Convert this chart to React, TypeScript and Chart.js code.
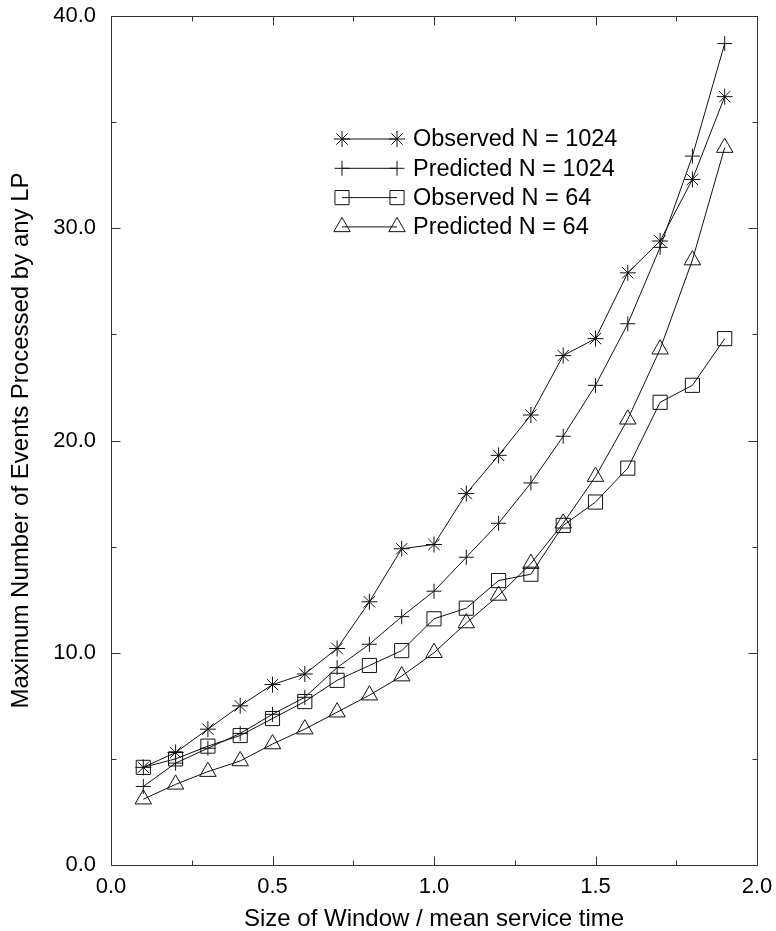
import React, { useEffect, useRef } from "react";
import { Chart, registerables } from "chart.js";

Chart.register(...registerables);

const windowSizes = [0.1, 0.2, 0.3, 0.4, 0.5, 0.6, 0.7, 0.8, 0.9, 1.0, 1.1, 1.2, 1.3, 1.4, 1.5, 1.6, 1.7, 1.8, 1.9];
const observed1024 = [4.6, 5.3, 6.4, 7.5, 8.5, 9.0, 10.2, 12.4, 14.9, 15.1, 17.5, 19.3, 21.2, 24.0, 24.8, 27.9, 29.4, 32.3, 36.2];
const predicted1024 = [3.7, 4.8, 5.5, 6.2, 7.1, 7.9, 9.3, 10.4, 11.7, 12.9, 14.5, 16.1, 18.0, 20.2, 22.6, 25.5, 29.1, 33.4, 38.7];
const observed64 = [4.6, 5.0, 5.6, 6.1, 6.9, 7.7, 8.7, 9.4, 10.1, 11.6, 12.1, 13.4, 13.7, 16.0, 17.1, 18.7, 21.8, 22.6, 24.8];
const predicted64 = [3.1, 3.8, 4.4, 4.9, 5.7, 6.4, 7.2, 8.0, 8.9, 10.0, 11.4, 12.7, 14.2, 16.1, 18.3, 21.0, 24.3, 28.5, 33.8];

const seriesLabels = ["Observed N = 1024", "Predicted N = 1024", "Observed N = 64", "Predicted N = 64"];
const xMajorTicks = [0, 0.5, 1.0, 1.5, 2.0];
const xMinorTicks = [0.25, 0.75, 1.25, 1.75];
const yMajorTicks = [0, 10, 20, 30, 40];
const yMinorTicks = [5, 15, 25, 35];

const INK = "#111111";
const FONT = "'Liberation Sans', Arial, Helvetica, sans-serif";
const styles = ["star", "cross", "rect", "triangle"];
const radii = [8, 7.5, 10, 9.5];

function drawMarker(ctx: CanvasRenderingContext2D, style: string, x: number, y: number, r: number) {
  ctx.beginPath();
  if (style === "rect") {
    const s = Math.SQRT1_2 * r;
    ctx.rect(x - s, y - s, 2 * s, 2 * s);
  } else if (style === "triangle") {
    let rad = 0;
    ctx.moveTo(x + Math.sin(rad) * r, y - Math.cos(rad) * r);
    rad += (2 * Math.PI) / 3;
    ctx.lineTo(x + Math.sin(rad) * r, y - Math.cos(rad) * r);
    rad += (2 * Math.PI) / 3;
    ctx.lineTo(x + Math.sin(rad) * r, y - Math.cos(rad) * r);
    ctx.closePath();
  } else if (style === "cross") {
    ctx.moveTo(x - r, y);
    ctx.lineTo(x + r, y);
    ctx.moveTo(x, y - r);
    ctx.lineTo(x, y + r);
  } else if (style === "star") {
    ctx.moveTo(x - r, y);
    ctx.lineTo(x + r, y);
    ctx.moveTo(x, y - r);
    ctx.lineTo(x, y + r);
    const d = Math.cos(Math.PI / 4) * r;
    ctx.moveTo(x - d, y - d);
    ctx.lineTo(x + d, y + d);
    ctx.moveTo(x + d, y - d);
    ctx.lineTo(x - d, y + d);
  }
  ctx.stroke();
}

const framePlugin = {
  id: "frameTicks",
  afterDraw(chart: any) {
    const { ctx, chartArea } = chart;
    const xs = chart.scales.x;
    const ys = chart.scales.y;
    ctx.save();
    ctx.strokeStyle = "#333333";
    ctx.lineWidth = 1;
    const l = Math.round(chartArea.left) + 0.5;
    const r = Math.round(chartArea.right) + 0.5;
    const t = Math.round(chartArea.top) + 0.5;
    const b = Math.round(chartArea.bottom) + 0.5;
    ctx.strokeRect(l, t, r - l, b - t);
    ctx.beginPath();
    const xt = (vals: number[], len: number) => {
      vals.forEach((v) => {
        const px = Math.round(xs.getPixelForValue(v)) + 0.5;
        ctx.moveTo(px, b);
        ctx.lineTo(px, b - len);
        ctx.moveTo(px, t);
        ctx.lineTo(px, t + len);
      });
    };
    const yt = (vals: number[], len: number) => {
      vals.forEach((v) => {
        const py = Math.round(ys.getPixelForValue(v)) + 0.5;
        ctx.moveTo(l, py);
        ctx.lineTo(l + len, py);
        ctx.moveTo(r, py);
        ctx.lineTo(r - len, py);
      });
    };
    xt(xMajorTicks, 9);
    xt(xMinorTicks, 5);
    yt(yMajorTicks, 9);
    yt(yMinorTicks, 5);
    ctx.stroke();

    // legend
    const rowY0 = 139;
    const rowGap = 29.3;
    const lx1 = 342;
    const lx2 = 397;
    ctx.strokeStyle = INK;
    ctx.fillStyle = "#000000";
    ctx.font = `23.5px ${FONT}`;
    ctx.textBaseline = "middle";
    ctx.textAlign = "left";
    seriesLabels.forEach((label, i) => {
      const y = rowY0 + i * rowGap;
      ctx.beginPath();
      ctx.moveTo(lx1, y);
      ctx.lineTo(lx2, y);
      ctx.stroke();
      drawMarker(ctx, styles[i], lx1, y, radii[i]);
      drawMarker(ctx, styles[i], lx2, y, radii[i]);
      ctx.fillText(label, 413, y + 1);
    });
    ctx.restore();
  },
};

export default function App() {
  const ref = useRef<HTMLCanvasElement | null>(null);
  useEffect(() => {
    document.body.style.margin = "0";
    const canvas = ref.current;
    if (!canvas) return;
    const seriesValues = [observed1024, predicted1024, observed64, predicted64];
    const chart = new Chart(canvas, {
      type: "line",
      data: {
        datasets: seriesValues.map((vals, i) => ({
          label: seriesLabels[i],
          data: windowSizes.map((x, j) => ({ x, y: vals[j] })),
          borderColor: INK,
          borderWidth: 1,
          backgroundColor: "rgba(0,0,0,0)",
          pointStyle: styles[i] as any,
          pointRadius: radii[i],
          pointBorderColor: INK,
          pointBorderWidth: 1,
          pointBackgroundColor: "rgba(0,0,0,0)",
          fill: false,
          tension: 0,
        })),
      },
      options: {
        animation: false,
        responsive: false,
        maintainAspectRatio: false,
        layout: { padding: { left: 0, top: 16, right: 19, bottom: 0 } },
        plugins: { legend: { display: false }, tooltip: { enabled: false } },
        scales: {
          x: {
            type: "linear",
            min: 0,
            max: 2,
            grid: { display: false, drawTicks: false },
            border: { display: false },
            ticks: {
              stepSize: 0.5,
              padding: 9,
              color: "#000",
              font: { family: FONT, size: 22 },
              callback: (v: any) => Number(v).toFixed(1),
            },
            title: {
              display: true,
              text: "Size of Window / mean service time",
              color: "#000",
              font: { family: FONT, size: 24, lineHeight: 1 },
              padding: { top: 0, bottom: 0 },
            },
            afterFit: (s: any) => {
              s.height = 66;
              s.paddingLeft = 0;
              s.paddingRight = 0;
            },
          },
          y: {
            type: "linear",
            min: 0,
            max: 40,
            grid: { display: false, drawTicks: false },
            border: { display: false },
            ticks: {
              stepSize: 10,
              padding: 15,
              color: "#000",
              font: { family: FONT, size: 22 },
              callback: (v: any) => Number(v).toFixed(1),
            },
            title: {
              display: true,
              text: "Maximum Number of Events Processed by any LP",
              color: "#000",
              font: { family: FONT, size: 24, lineHeight: 1 },
              padding: { top: 9, bottom: 0 },
            },
            afterFit: (s: any) => {
              s.width = 111;
              s.paddingTop = 0;
              s.paddingBottom = 0;
            },
          },
        },
      },
      plugins: [framePlugin],
    });
    return () => chart.destroy();
  }, []);
  return (
    <div style={{ width: 776, height: 931, background: "#fff" }}>
      <canvas ref={ref} width={776} height={931} style={{ display: "block" }} />
    </div>
  );
}
